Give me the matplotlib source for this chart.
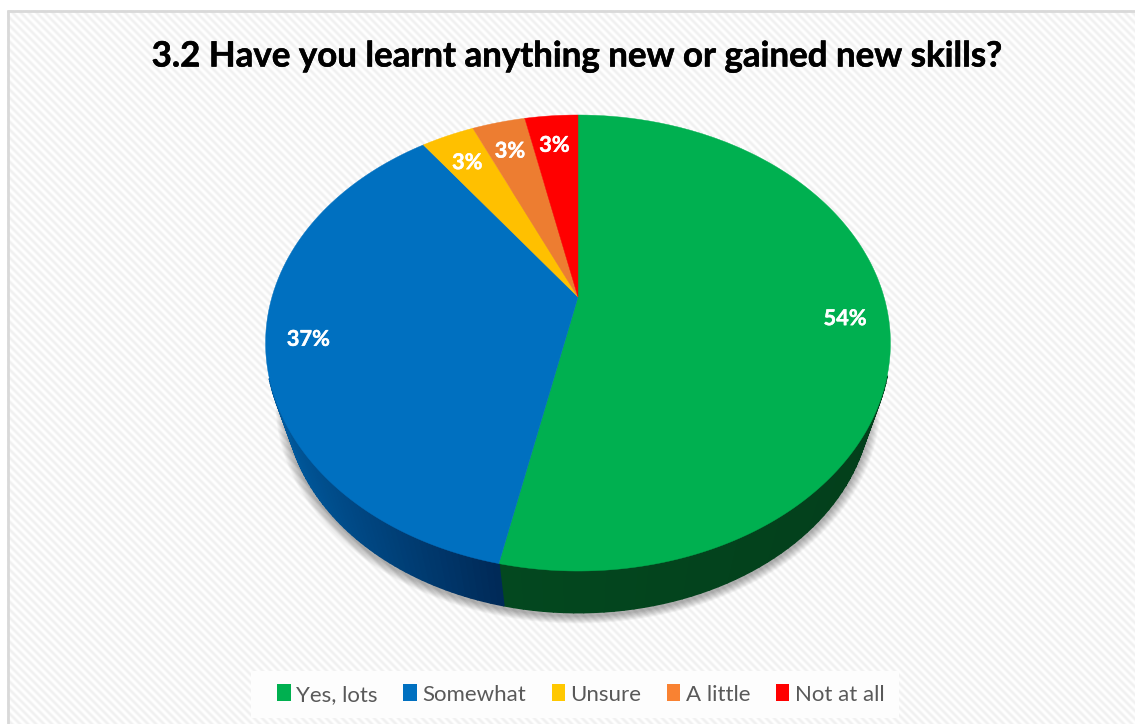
#coding:utf-8
# 3D looking pie chart, drawn on a full figure axes in pixel units

import numpy as np
import matplotlib
matplotlib.use('Agg')
import matplotlib.pyplot as plt
import matplotlib.patheffects as pe
from matplotlib.patches import Polygon, Patch, Rectangle
from matplotlib.collections import PolyCollection
from matplotlib.colors import to_rgb

title = '3.2 Have you learnt anything new or gained new skills?'
categories = ['Yes, lots', 'Somewhat', 'Unsure', 'A little', 'Not at all']
shares = [53.33, 36.67, 3.33, 3.33, 3.34]
labels = ['54%', '37%', '3%', '3%', '3%']
colors = ['#00b050', '#0070c0', '#ffc000', '#ed7d31', '#ff0000']
legend_colors = ['#00b050', '#0070c0', '#ffc800', '#f98232', '#ff0000']
# rim colour at the left and right end of each slice
rim_left = ['#03481f', '#005a9e', '#806000', '#7f4218', '#800000']
rim_right = ['#033f1b', '#002a58', '#806000', '#7f4218', '#800000']

W, H = 1135, 724
# perspective of the top face
cx = 578
apex_y = 297
persp = 0.2018
tilt = -158.8
scale_x = 306
# the lower edge of the rim shrinks towards a far point
rim_scale = 0.937
far_y = 1231


def project(x, y):
    d = 1 + persp * y
    return cx + scale_x * x / d, (tilt * y + apex_y) / d


def rim_point(x, y):
    px, py = project(x, y)
    return cx + rim_scale * (px - cx), far_y + rim_scale * (py - far_y)


fig = plt.figure(figsize=(W / 100, H / 100), dpi=100)
ax = fig.add_axes([0, 0, 1, 1])
ax.set_xlim(0, W)
ax.set_ylim(H, 0)
ax.axis('off')

# striped background
yy, xx = np.mgrid[0:H, 0:W]
phase = (xx - yy) % 8
stripes = 0.5 + 0.5 * np.cos(phase / 8 * 2 * np.pi)
bg = 1 - 0.06 * stripes
ax.imshow(bg, cmap='gray', vmin=0, vmax=1, extent=[0, W, H, 0], aspect='auto', zorder=0)
ax.add_patch(Rectangle((0, 0), W, 10, fc='white', ec='none', zorder=1))
ax.add_patch(Rectangle((0, 0), 7, H, fc='white', ec='none', zorder=1))
ax.plot([8, 8], [10, H], color='#d9d9d9', lw=2, zorder=2, solid_capstyle='butt')
ax.plot([7, W], [11, 11], color='#d9d9d9', lw=2, zorder=2, solid_capstyle='butt')

# soft shadow under the pie
t = np.linspace(0, 2 * np.pi, 361)
edge = np.array([rim_point(np.sin(a), np.cos(a)) for a in t])
mid = edge.mean(axis=0)
for grow in np.arange(12, 0, -1):
    pts = (edge - mid) * (1 + grow * 0.0028) + mid + [0, 3]
    ax.add_patch(Polygon(pts, fc='black', ec='none', alpha=0.028, zorder=3))

# slices, clockwise from the top
edges = np.concatenate([[0], np.cumsum(shares)]) / sum(shares) * 2 * np.pi

# rim
for i in range(len(shares)):
    a = np.linspace(edges[i], edges[i + 1], 120)
    quads = []
    cols = []
    xs = [rim_point(np.sin(v), np.cos(v))[0] for v in a]
    lo, hi = min(xs), max(xs)
    c0 = np.array(to_rgb(rim_left[i]))
    c1 = np.array(to_rgb(rim_right[i]))
    for a0, a1 in zip(a[:-1], a[1:]):
        # upper part of the rim is hidden behind the top face
        if np.cos(a0) > -0.35 and np.cos(a1) > -0.35:
            continue
        p0 = project(np.sin(a0), np.cos(a0))
        p1 = project(np.sin(a1), np.cos(a1))
        q0 = rim_point(np.sin(a0), np.cos(a0))
        q1 = rim_point(np.sin(a1), np.cos(a1))
        quads.append([p0, p1, q1, q0])
        f = (q0[0] - lo) / max(hi - lo, 1)
        cols.append(c0 + (c1 - c0) * f)
    if quads:
        ax.add_collection(PolyCollection(quads, facecolors=cols, edgecolors=cols, linewidths=1.2, zorder=4))

# top face
for i in range(len(shares)):
    a = np.linspace(edges[i], edges[i + 1], 200)
    pts = [project(0, 0)] + [project(np.sin(v), np.cos(v)) for v in a]
    ax.add_patch(Polygon(pts, fc=colors[i], ec=colors[i], lw=0.3, zorder=5))

# data labels
for i in range(len(shares)):
    m = (edges[i] + edges[i + 1]) / 2
    r = 0.865 if shares[i] > 10 else 0.82
    lx, ly = project(r * np.sin(m), r * np.cos(m))
    ax.text(lx - 1, ly + 1.5, labels[i], color='white', fontsize=15.7, fontweight='bold', family='Lato',
            ha='center', va='center', zorder=6,
            path_effects=[pe.withStroke(linewidth=0.3, foreground='white')])

ax.text(576.5, 56.5, title, color='black', fontsize=25.1, fontweight='bold', family='Lato',
        ha='center', va='center', zorder=6,
        path_effects=[pe.withStroke(linewidth=0.4, foreground='black')])

# legend
ax.add_patch(Rectangle((251, 671), 648, 47, fc='#fdfdfd', ec='none', zorder=5))
handles = [Patch(fc=c, ec='none') for c in legend_colors]
ax.legend(handles, categories, loc='center', bbox_to_anchor=(581 / W, 1 - 694.5 / H), ncols=5,
          frameon=False, handlelength=0.6, handleheight=0.8, handletextpad=0.25,
          columnspacing=1.15, labelcolor='#595959',
          prop={'family': 'Lato', 'size': 16}).set_zorder(6)

fig.savefig('out.png', dpi=100)
